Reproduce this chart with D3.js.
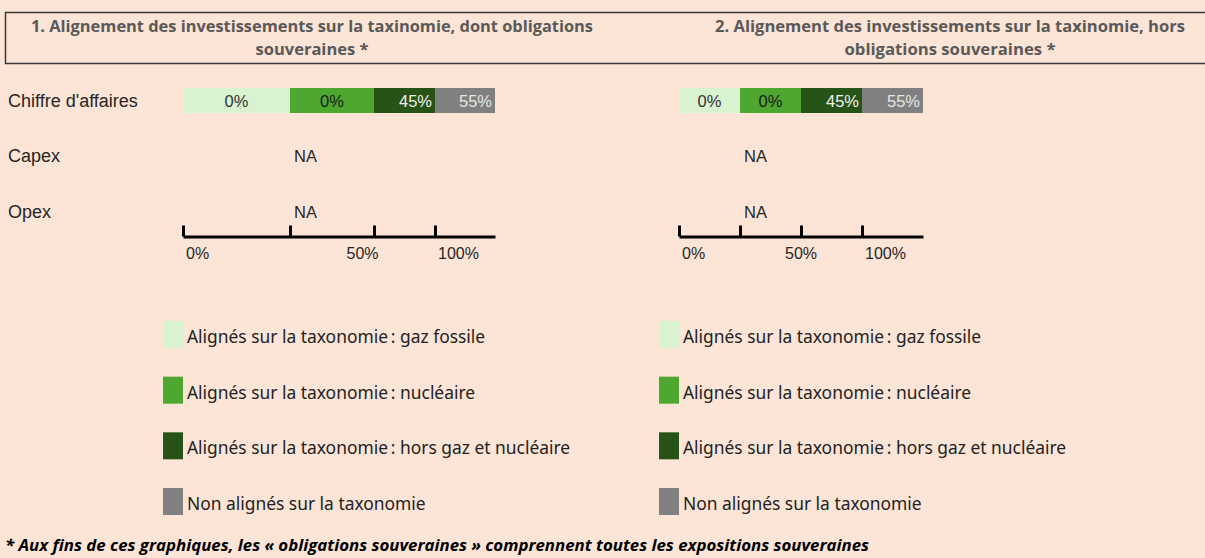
<!DOCTYPE html>
<html lang="fr">
<head>
<meta charset="UTF-8">
<title>Alignement taxinomie</title>
<script src="https://d3js.org/d3.v7.min.js"></script>
<style>
  html, body { margin: 0; padding: 0; background: #FCE4D6; overflow: hidden; }
  svg { display: block; }
</style>
</head>
<body>
<div id="chart"></div>
<script>
// data
var categories = ["Chiffre d'affaires", "Capex", "Opex"];
var seriesNames = [
  "Alignés sur la taxonomie\u202F: gaz fossile",
  "Alignés sur la taxonomie\u202F: nucléaire",
  "Alignés sur la taxonomie\u202F: hors gaz et nucléaire",
  "Non alignés sur la taxonomie"
];
var seriesColors = ["#D9F2D0", "#4EA72E", "#275317", "#808080"];
var labelColors = ["#333333", "#1a1a1a", "#f0f0f0", "#e6e6e6"];
// values per category (null = NA)
var panel1Values = [[0, 0, 45, 55], null, null];
var panel2Values = [[0, 0, 45, 55], null, null];
var axisLabels = ["0%", "50%", "100%"];
var axisLabelTicks = [0, 2, 3];
var titles1 = ["1. Alignement des investissements sur la taxinomie, dont obligations", "souveraines *"];
var titles2 = ["2. Alignement des investissements sur la taxinomie, hors", "obligations souveraines *"];
var footnote = "* Aux fins de ces graphiques, les « obligations souveraines » comprennent toutes les expositions souveraines";

var width = 1205, height = 558;

var svg = d3.select("#chart").append("svg")
    .attr("width", width)
    .attr("height", height);

svg.append("rect")
    .attr("width", width).attr("height", height)
    .attr("fill", "#FCE4D6");

// header cell
svg.append("rect")
    .attr("x", 5.5).attr("y", 12.5)
    .attr("width", 1210).attr("height", 51)
    .attr("fill", "none")
    .attr("stroke", "#3a3a3a")
    .attr("stroke-width", 1.5);

function drawTitle(lines, cx, w1, w2) {
    var t = svg.append("g").attr("font-family", "'Open Sans', sans-serif")
        .attr("font-weight", "bold").attr("font-size", "16px").attr("fill", "#595959")
        .attr("text-anchor", "middle");
    t.append("text").attr("x", cx).attr("y", 32).text(lines[0])
        .attr("textLength", w1).attr("lengthAdjust", "spacingAndGlyphs");
    t.append("text").attr("x", cx).attr("y", 54.5).text(lines[1])
        .attr("textLength", w2).attr("lengthAdjust", "spacingAndGlyphs");
}
drawTitle(titles1, 312, 562, 113);
drawTitle(titles2, 950, 470, 211);

// rows
var y = d3.scalePoint().domain(categories).range([100.5, 211.5]);

svg.append("g").selectAll("text")
    .data(categories)
    .enter().append("text")
    .attr("x", 8)
    .attr("y", function(d) { return y(d) + 6; })
    .attr("font-family", "'Liberation Sans', Arial, sans-serif")
    .attr("font-size", "18px")
    .attr("fill", "#262626")
    .text(function(d) { return d; });

function drawPanel(values, bounds, legendX) {
    var x = d3.scaleLinear().domain([0, 1, 2, 3, 4]).range(bounds);
    var g = svg.append("g").attr("font-family", "'Liberation Sans', Arial, sans-serif")
        .attr("font-size", "16.5px");
    var barH = 25;

    values.forEach(function(row, ri) {
        var cy = y(categories[ri]);
        if (row === null) {
            g.append("text")
                .attr("x", x(1) + 4)
                .attr("y", cy + 6)
                .attr("fill", "#262626")
                .text("NA");
            return;
        }
        row.forEach(function(v, i) {
            g.append("rect")
                .attr("x", x(i)).attr("y", cy - barH / 2)
                .attr("width", x(i + 1) - x(i)).attr("height", barH)
                .attr("fill", seriesColors[i]);
            var lbl = g.append("text")
                .attr("y", cy + 6)
                .attr("fill", labelColors[i])
                .text(v + "%");
            if (v > 0) {
                lbl.attr("x", x(i + 1) - 3).attr("text-anchor", "end");
            } else {
                lbl.attr("x", (x(i) + x(i + 1)) / 2).attr("text-anchor", "middle");
            }
        });
    });

    // axis
    var axis = d3.axisTop(x).tickValues([0, 1, 2, 3]).tickSize(11).tickSizeOuter(0).tickFormat("");
    var ag = g.append("g").attr("transform", "translate(0,236.5)").call(axis);
    ag.select(".domain").attr("stroke", "#000").attr("stroke-width", 3);
    ag.selectAll(".tick line").attr("stroke", "#000").attr("stroke-width", 3);

    axisLabels.forEach(function(l, i) {
        var t = axisLabelTicks[i];
        // middle label is centred across the cells between ticks 1 and 3
        g.append("text")
            .attr("x", t === 2 ? (x(1) + x(3)) / 2 : x(t) + 3)
            .attr("y", 259)
            .attr("text-anchor", t === 2 ? "middle" : "start")
            .attr("font-size", "16px")
            .attr("fill", "#262626")
            .text(l);
    });

    // legend
    var ly = d3.scalePoint().domain(d3.range(seriesNames.length)).range([321, 488]);
    var lg = g.append("g").selectAll("g")
        .data(seriesNames)
        .enter().append("g")
        .attr("transform", function(d, i) { return "translate(" + legendX + "," + ly(i) + ")"; });
    lg.append("rect")
        .attr("width", 20).attr("height", 27)
        .attr("fill", function(d, i) { return seriesColors[i]; });
    lg.append("text")
        .attr("x", 24).attr("y", 22)
        .attr("font-family", "'Noto Sans', sans-serif")
        .attr("font-size", "17.4px")
        .attr("fill", "#222")
        .text(function(d) { return d; });
}

drawPanel(panel1Values, [183, 290, 374, 435, 495], 163);
drawPanel(panel2Values, [679, 740, 801, 862, 923], 659);

svg.append("text")
    .attr("x", 5).attr("y", 551)
    .attr("font-family", "'Open Sans', sans-serif")
    .attr("font-weight", "bold").attr("font-style", "italic")
    .attr("font-size", "16px").attr("fill", "#000")
    .attr("textLength", 864).attr("lengthAdjust", "spacingAndGlyphs")
    .text(footnote);
</script>
</body>
</html>
